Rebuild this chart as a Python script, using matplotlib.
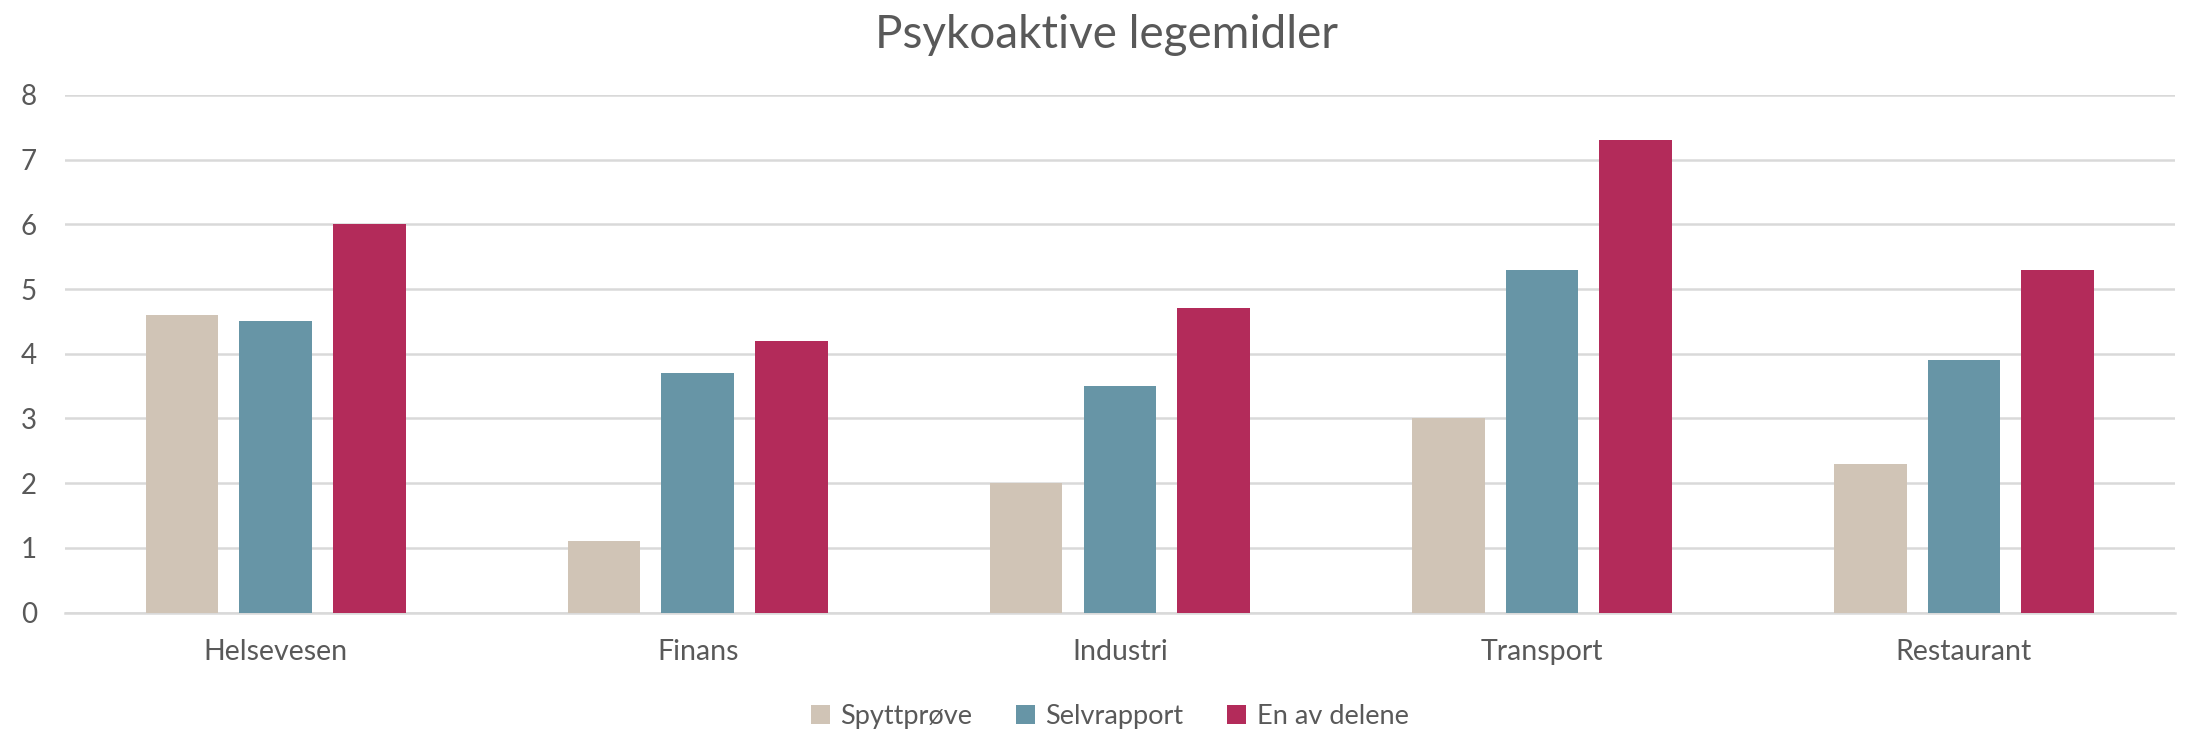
import matplotlib
matplotlib.use("Agg")
import matplotlib.pyplot as plt
import numpy as np

categories = ["Helsevesen", "Finans", "Industri", "Transport", "Restaurant"]
series_names = ["Spyttprøve", "Selvrapport", "En av delene"]
spytt = [4.6, 1.1, 2.0, 3.0, 2.3]
selv = [4.5, 3.7, 3.5, 5.3, 3.9]
en_av = [6.0, 4.2, 4.7, 7.3, 5.3]
colors = ["#D0C4B6", "#6795A6", "#B32B5A"]
yticks = [0, 1, 2, 3, 4, 5, 6, 7, 8]

plt.rcParams['font.family'] = ['Lato', 'DejaVu Sans']
fig = plt.figure(figsize=(21.93, 7.36), dpi=100)
ax = fig.add_axes([0.0295, 0.1677, 0.9623, 0.7033])

x = np.arange(len(categories))
w = 0.172
step = 0.222
for i, (vals, name) in enumerate(zip([spytt, selv, en_av], series_names)):
    ax.bar(x + (i - 1) * step, vals, width=w, color=colors[i], label=name, zorder=3)

ax.set_xlim(-0.5, len(categories) - 0.5)
ax.set_ylim(0, 8)
ax.set_yticks(yticks)
ax.set_xticks(x)
ax.set_xticklabels(categories)
ax.yaxis.grid(True, color="#D9D9D9", linewidth=1.8, zorder=0)
ax.set_axisbelow(True)
for s in ["top", "right", "left"]:
    ax.spines[s].set_visible(False)
ax.spines["bottom"].set_color("#D9D9D9")
ax.spines["bottom"].set_linewidth(1.8)
ax.tick_params(axis="both", length=0, colors="#595959")
ax.tick_params(axis="y", labelsize=20, pad=20)
ax.tick_params(axis="x", labelsize=20.5, pad=19)

fig.text(0.5045, 0.953, "Psykoaktive legemidler", ha="center", va="center",
         fontsize=33, color="#595959")

leg = fig.legend(loc="center", bbox_to_anchor=(0.506, 0.027), ncol=3, frameon=False,
                 fontsize=19.5, handlelength=0.7, handleheight=0.7, handletextpad=0.4,
                 columnspacing=1.6)
for t in leg.get_texts():
    t.set_color("#595959")

fig.savefig("out.png", dpi=100)
